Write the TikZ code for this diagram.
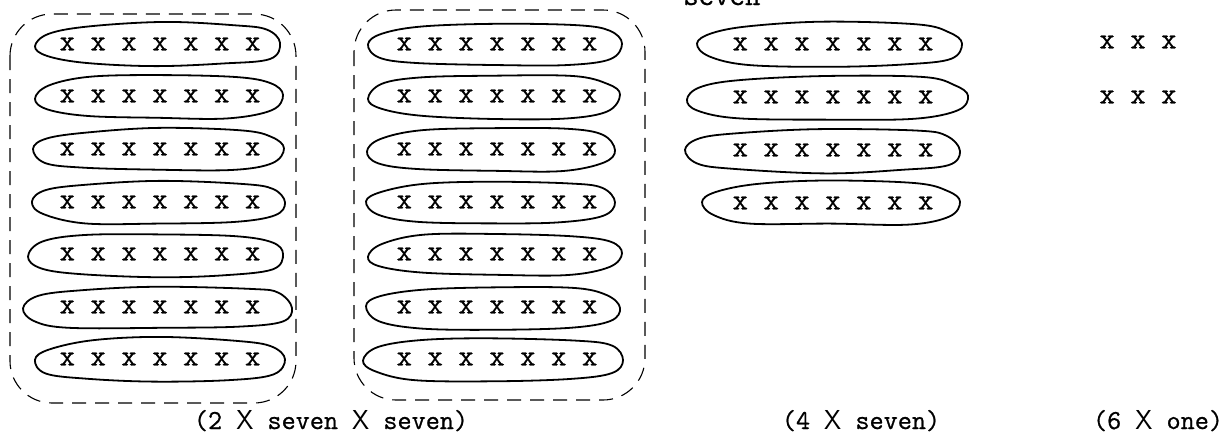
\documentclass[tikz,border=0pt]{standalone}
\usepackage{fontspec}
\newfontfamily\typer{Latin Modern Mono}[FakeBold=0.8]
\newfontfamily\typesans{Latin Modern Sans}

% a hand-drawn loop around one row of crosses: left end, right end, row height
\newcommand\handloop[3]{%
  \draw[ringline] plot[smooth cycle, tension=0.6] coordinates {
    (#1,{#3+1+2*rand})
    ({#1+14+1.5*rand},{#3-11+1.5*rand})
    ({#1+55+4*rand},{#3-18+1.5*rand})
    ({(#1+#2)/2+8*rand},{#3-21+1.5*rand})
    ({#2-45+4*rand},{#3-19+1.5*rand})
    ({#2-12+1.5*rand},{#3-13+1.5*rand})
    (#2,{#3+1.5*rand})
    ({#2-11+1.5*rand},{#3+14+1.5*rand})
    ({#2-55+4*rand},{#3+21+1.5*rand})
    ({(#1+#2)/2+8*rand},{#3+22+1.5*rand})
    ({#1+50+4*rand},{#3+20+1.5*rand})
    ({#1+12+1.5*rand},{#3+13+1.5*rand})
  };}

\tikzset{
  ringline/.style={line width=1.8pt, line join=round},
  dashbox/.style={line width=1.1pt, dash pattern=on 14pt off 9pt, rounded corners=42pt},
  xrow/.style={inner sep=0pt, font=\typer\fontsize{30}{30}\selectfont},
  tag/.style={anchor=base, inner sep=0pt, font=\typer\fontsize{27.4}{30}\selectfont},
}

\begin{document}
\begin{tikzpicture}[x=1pt, y=-1pt]
  \clip (0,0) rectangle (1225,442);
  \fill[white] (0,0) rectangle (1225,442);
  \pgfmathsetseed{17}

  % heading, cut by the top edge
  \node[xrow, anchor=base west] (head) at (683,5) {seven};

  % first block of seven rows
  \foreach \i/\y/\l/\r in {1/44/35/280, 2/96/35/283, 3/149/33/284,
                           4/202/32/285, 5/254/28/283, 6/307/23/292, 7/359/35/285} {
    \node[xrow] (a\i) at (160,\y) {x x x x x x x};
    \handloop{\l}{\r}{\y}
  }
  \draw[dashbox] (10,14) rectangle (296,403);

  % second block of seven rows
  \foreach \i/\y/\l/\r in {1/44/368/622, 2/96/368/620, 3/149/367/615,
                           4/202/366/615, 5/254/368/622, 6/307/366/620, 7/359/363/623} {
    \node[xrow] (b\i) at (497,\y) {x x x x x x x};
    \handloop{\l}{\r}{\y}
  }
  \draw[dashbox] (354,10) rectangle (645,400);

  % four single rows
  \foreach \i/\y/\l/\r in {1/44/697/962, 2/97/687/968, 3/150/685/960, 4/203/702/960} {
    \node[xrow] (c\i) at (833,\y) {x x x x x x x};
    \handloop{\l}{\r}{\y}
  }

  % six loose crosses
  \node[xrow] (d1) at (1138,42) {x x x};
  \node[xrow] (d2) at (1138,97) {x x x};

  % captions
  \node[tag] (t1) at (331,429) {(2 {\typesans X} seven {\typesans X} seven)};
  \node[tag] (t2) at (861,429) {(4 {\typesans X} seven)};
  \node[tag] (t3) at (1158,429) {(6 {\typesans X} one)};
\end{tikzpicture}
\end{document}
